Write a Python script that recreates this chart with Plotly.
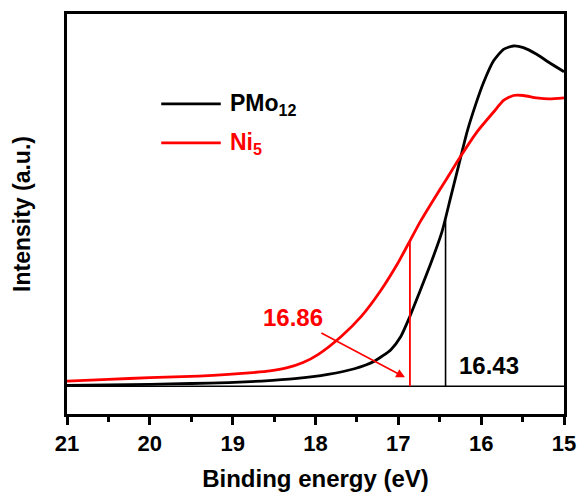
import plotly.graph_objects as go

# Binding energy (eV) and intensity (a.u.)
pmo_x = [21.0, 20.5, 20.0, 19.5, 19.05, 18.65, 18.25, 17.85, 17.53, 17.29, 17.09, 16.97, 16.87,
         16.75, 16.61, 16.47, 16.37, 16.27, 16.17, 16.07, 15.97, 15.85, 15.73, 15.61, 15.49,
         15.33, 15.18, 15.0]
pmo_y = [1, 1.3, 2, 2.8, 3.7, 5.3, 7.7, 12, 17.7, 25.3, 37, 50.3, 68.7,
         93.7, 123.7, 157, 190.3, 223.7, 257, 283.7, 307, 328.7, 340.3, 343.7, 342,
         335.3, 327, 317.7]

ni_x = [21.0, 20.5, 20.0, 19.41, 19.05, 18.8, 18.55, 18.35, 18.15, 17.97, 17.69, 17.45, 17.21,
        17.01, 16.87, 16.73, 16.61, 16.41, 16.25, 16.05, 15.85, 15.73, 15.61, 15.49, 15.33,
        15.18, 15.0]
ni_y = [5.3, 7, 8.7, 10.3, 12, 13.5, 15.5, 18.5, 24, 32, 50.3, 70.3, 97,
        123.7, 145.3, 167, 183.7, 210.3, 232, 257, 277, 288.7, 293.7, 293.7, 291.3,
        290.3, 291.3]

onset_pmo = 16.43
onset_ni = 16.86
onset_pmo_h = 168
onset_ni_h = 146

x_ticks = [21, 20, 19, 18, 17, 16, 15]
series_names = ["PMo<sub>12</sub>", "Ni<sub>5</sub>"]
series_colors = ["black", "#ff0000"]

FONT = "Arial, Liberation Sans, sans-serif"

fig = go.Figure()
fig.add_trace(go.Scatter(x=pmo_x, y=pmo_y, mode="lines",
                         line=dict(color=series_colors[0], width=2.8, shape="spline", smoothing=0.6),
                         name=series_names[0], showlegend=False))
fig.add_trace(go.Scatter(x=ni_x, y=ni_y, mode="lines",
                         line=dict(color=series_colors[1], width=2.8, shape="spline", smoothing=0.6),
                         name=series_names[1], showlegend=False))
# baseline and onset lines
fig.add_trace(go.Scatter(x=[21, 15], y=[0, 0], mode="lines", line=dict(color="black", width=1.6),
                         showlegend=False, hoverinfo="skip"))
fig.add_trace(go.Scatter(x=[onset_pmo, onset_pmo], y=[0, onset_pmo_h], mode="lines",
                         line=dict(color="black", width=1.6), showlegend=False, hoverinfo="skip"))
fig.add_trace(go.Scatter(x=[onset_ni, onset_ni], y=[0, onset_ni_h], mode="lines",
                         line=dict(color="#ff0000", width=1.8), showlegend=False, hoverinfo="skip"))

fig.add_annotation(x=16.92, y=9, ax=18.27, ay=69, axref="x", ayref="y",
                   text="<b>16.86</b>", font=dict(family=FONT, size=24, color="#ff0000"),
                   showarrow=True, arrowhead=2, arrowsize=1.1, arrowwidth=1.6, arrowcolor="#ff0000",
                   standoff=0, startstandoff=0)
fig.add_annotation(x=15.90, y=21, text="<b>16.43</b>", showarrow=False,
                   font=dict(family=FONT, size=24, color="black"))

# legend drawn as lines + text
leg_y = [0.7755, 0.678]
for name, color, yy in zip(series_names, series_colors, leg_y):
    fig.add_shape(type="line", xref="paper", yref="paper", x0=0.1896, x1=0.3094, y0=yy, y1=yy,
                  line=dict(color=color, width=2.8))
    fig.add_annotation(xref="paper", yref="paper", x=0.3233, y=yy - 0.002, xanchor="left",
                       yanchor="middle", showarrow=False, text="<b>" + name + "</b>",
                       font=dict(family=FONT, size=23, color=color))

fig.update_layout(
    width=587, height=500,
    margin=dict(l=67, r=19, t=11, b=85),
    plot_bgcolor="white", paper_bgcolor="white",
    font=dict(family=FONT, size=22, color="black", weight="bold"),
    showlegend=False,
)
fig.update_xaxes(
    range=[21, 15], tickvals=x_ticks, ticks="outside", ticklen=8, tickwidth=2.5, tickcolor="black",
    showline=True, linewidth=2.5, linecolor="black", mirror=True, showgrid=False, zeroline=False,
    tickfont=dict(size=22, weight="bold"),
    minor=dict(dtick=0.5, ticks="outside", ticklen=5, tickwidth=2.5, tickcolor="black", showgrid=False),
    title=dict(text="Binding energy (eV)", font=dict(size=24, weight="bold"), standoff=16),
)
fig.update_yaxes(
    range=[-28, 376], showticklabels=False, ticks="", showline=True, linewidth=2.5, linecolor="black",
    mirror=True, showgrid=False, zeroline=False,
    title=dict(text="Intensity (a.u.)", font=dict(size=23, weight="bold"), standoff=28),
)

fig.write_html("out.html")
